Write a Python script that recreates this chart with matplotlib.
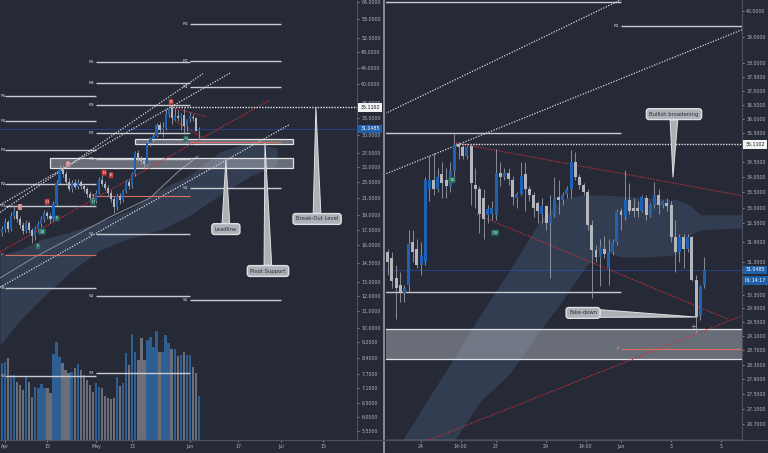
import numpy as np
import matplotlib
matplotlib.use("Agg")
import matplotlib.pyplot as plt
import matplotlib.transforms as mtransforms
from matplotlib.patches import Rectangle
from matplotlib.lines import Line2D
from matplotlib.ticker import NullLocator, NullFormatter

# ---------------- data ----------------
# Left pane: daily candles, first bar = Mar 30 (x = days since Mar 30)
day_open = [16.8,17.2,17.6,18.3,17.6,18.9,19.4,18.6,18.0,17.4, 18.2,17.5,16.9,17.6,18.1,18.6,19.2,18.9,18.6,20.3,
            22.8,24.6,24.0,22.9,22.0,22.8,22.3,22.9,22.4,22.0, 21.4,21.0,20.6,21.6,23.2,22.7,22.2,21.6,20.8,19.9,
            21.2,20.7,21.8,22.9,22.4,24.0,27.0,26.2,25.8,25.4, 28.6,29.3,29.9,31.8,30.8,31.2,33.9,35.05,32.75,33.45,
            33.05,33.6,31.65,32.9,33.3,33.1,30.75]
day_high = [17.6,17.9,18.7,18.5,19.3,19.9,19.6,18.9,18.3,18.5, 18.4,17.7,17.9,18.4,18.9,19.6,19.5,19.2,20.6,23.2,
            25.4,25.3,24.4,23.5,23.2,23.4,23.3,23.2,22.7,22.3, 21.8,21.4,21.9,23.6,23.9,23.1,22.5,21.9,21.1,21.5,
            21.6,22.1,23.2,23.3,24.3,27.4,27.6,26.6,26.2,29.0, 29.7,30.4,32.2,32.3,32.3,34.8,35.45,35.1,35.0,34.5,
            34.0,35.0,32.95,34.25,33.85,33.2,31.45]
day_low = [16.4,16.9,17.3,17.3,17.4,18.6,18.3,17.7,17.1,17.2, 17.2,16.2,16.5,17.3,17.8,18.3,18.6,18.2,18.4,20.0,
           22.5,23.6,22.6,21.8,21.7,22.0,22.0,22.1,21.7,21.1, 20.7,20.2,20.4,21.4,22.4,21.9,21.2,20.5,19.2,19.6,
           20.3,20.5,21.5,22.0,22.2,23.8,25.9,25.4,24.9,25.2, 28.1,28.8,29.6,30.4,29.6,30.9,33.3,32.0,32.6,32.5,
           30.8,30.2,30.55,32.3,32.5,30.7,29.2]
day_close = [17.2,17.6,18.3,17.6,18.9,19.4,18.6,18.0,17.4,18.2, 17.5,16.9,17.6,18.1,18.6,19.2,18.9,18.6,20.3,22.8,
             24.6,24.0,22.9,22.0,22.8,22.3,22.9,22.4,22.0,21.4, 21.0,20.6,21.6,23.2,22.7,22.2,21.6,20.8,19.9,21.2,
             20.7,21.8,22.9,22.4,24.0,27.0,26.2,25.8,25.4,28.6, 29.3,29.9,31.8,30.8,31.2,33.8,35.0,33.0,33.45,33.05,
             33.6,31.65,32.85,33.35,33.05,30.75,31.05]
day_volume = [73,77,78,82,65,65,58,55,50,64, 58,43,53,52,56,52,52,47,86,98,
              83,77,70,67,68,72,76,70,65,60, 55,48,57,53,52,44,42,41,42,63,
              54,57,87,75,106,88,80,102,80,100, 103,93,109,88,88,105,97,91,91,84,
              85,88,85,85,73,67,44]

# Right pane: 4h candles, first bar = May 22 16:00
h4_first = 53 + 16 / 24
h4_open = [31.6,31.4,30.8,30.6,30.35,30.6,31.9,31.7,31.2,31.3, 33.6,33.9,33.6,34.1,33.9,33.7,34.2,35.1,35.0,34.7,
           35.05,33.75,33.6,33.3,32.75,32.8,32.75,34.15,34.0,34.15, 33.9,33.3,33.45,34.1,33.6,33.4,33.15,32.8,33.05,32.5,
           32.75,33.35,33.25,33.45,33.6,34.5,34.0,33.75,33.5,32.45, 31.65,31.45,31.7,31.1,31.6,31.9,32.9,32.7,33.25,33.0,
           32.95,32.9,33.3,32.75,33.1,33.4,33.1,33.15,33.1,32.05, 31.6,32.05,31.7,32.05,30.75,29.7,30.6]
h4_high = [31.7,31.6,31.2,31.0,30.6,32.3,32.3,32.0,31.9,34.0, 34.7,34.8,34.3,34.5,34.3,34.5,35.45,35.2,35.1,35.1,
           35.1,34.3,33.7,33.6,33.1,33.2,34.95,34.5,34.3,34.3, 34.05,33.5,34.5,34.5,33.7,33.5,33.2,33.3,33.1,33.4,
           34.0,33.9,33.5,33.7,34.9,34.85,34.1,33.8,33.6,32.6, 31.8,32.0,32.1,32.0,32.0,32.95,33.0,34.25,33.8,33.3,
           33.2,33.4,33.4,33.15,33.85,33.6,33.25,33.3,33.2,32.6, 32.15,32.15,32.15,32.1,30.9,30.6,31.45]
h4_low = [30.9,30.5,29.6,30.1,30.1,30.4,31.3,31.1,30.9,31.2, 33.2,33.4,33.5,33.3,33.3,33.5,34.0,34.6,34.6,34.6,
          33.1,33.0,32.2,32.0,32.5,32.6,32.6,33.7,33.9,33.75, 33.1,33.0,33.4,32.9,33.2,32.7,32.5,32.5,32.3,30.8,
          32.7,32.8,33.1,33.3,33.3,33.9,33.6,33.4,32.3,30.2, 31.3,30.55,31.4,30.6,31.5,31.8,32.3,32.6,32.8,32.7,
          32.7,32.85,32.6,32.7,33.0,32.8,33.0,32.9,31.9,31.0, 31.3,31.1,31.6,30.7,29.2,29.55,30.5]
h4_close = [31.3,30.7,30.5,30.4,30.5,31.85,31.6,31.2,31.5,33.9, 33.9,33.6,34.0,33.8,33.7,34.2,35.1,35.0,34.7,35.0,
            33.8,33.6,32.8,32.65,32.95,33.0,34.15,34.0,34.15,33.95, 33.35,33.45,34.05,33.6,33.4,33.0,32.9,33.05,32.5,32.75,
            33.3,33.25,33.4,33.6,34.5,34.0,33.75,33.5,32.45,31.65, 31.45,31.75,31.55,31.6,31.9,32.85,32.75,33.25,32.9,32.9,
            32.9,33.35,32.75,33.1,33.4,33.1,33.15,33.05,32.05,31.6, 32.05,31.7,32.05,30.75,29.65,30.55,31.05]

# Moving average (left)
ma_day = [0.35, 11.24, 22.46, 36.65, 49.85, 59.75, 65.7]
ma_val = [13.28, 14.88, 16.49, 18.8, 20.95, 24.57, 26.6]

# Clouds
lc_day = [0.35, 6.95, 13.55, 23.45, 33.35, 43.25, 53.15, 63.05, 72.96, 82.86, 91.77]
lc_top = [15.14, 15.58, 16.49, 17.26, 18.27, 19.56, 21.93, 23.88, 27.23, 28.82, 27.85]
lc_bot = [9.06, 10.45, 11.72, 13.74, 15.58, 16.68, 17.46, 19.01, 21.31, 23.74, 25.28]
rc_day = [54.32, 55.36, 56.16, 57.36, 58.56, 59.76, 60.56, 61.36, 62.16, 62.96, 64.16, 65.24, 65.76, 66.16, 67.84]
rc_top = [26.35, 27.45, 28.3, 29.7, 31.06, 32.58, 33.25, 33.41, 33.41, 33.38, 33.31, 33.25, 33.09, 32.77, 32.77]
rc_bot = [26.2, 26.1, 26.1, 27.3, 28.06, 29.26, 30.03, 30.91, 31.67, 31.45, 31.45, 31.52, 32.13, 32.29, 32.35]

# Monthly pivots
pivA_names = ['R5', 'R4', 'R3', 'R2', 'R1', 'P', 'S1', 'S2']
pivA_levels = [37.46, 32.49, 27.53, 22.69, 20.01, 15.14, 12.55, 7.6]
pivA_span = (2, 32)
pivB_names = ['R5', 'R4', 'R3', 'R2', 'R1', 'P', 'S1', 'S2', 'S3']
pivB_levels = [45.47, 40.34, 35.5, 30.4, 26.16, 21.19, 17.06, 11.99, 7.73]
pivB_span = (32, 63)
pivC_names = ['R3', 'R2', 'R1', 'P', 'S1', 'S2']
pivC_levels = [56.46, 45.72, 39.4, 28.75, 22.18, 11.72]
pivC_span = (63, 93)

# Zones
zone1 = (16.85, 97, 24.9, 26.3)
zone2 = (45.0, 97, 28.45, 29.3)

# Trend lines (day, price, day, price)
white_lines = [(0.35, 19.30, 67.3, 42.55), (0.35, 20.14, 76.3, 42.7), (0.35, 12.6, 96.1, 31.9)]
red_lines = [(0.35, 15.4, 89.5, 36.65), (56.4, 35.15, 68.7, 33.26), (57.24, 32.77, 67.24, 29.6)]
breakout_level = 35.1102
breakout_from = 56.4
last_price = 31.0485

# ---------------- style ----------------
BG = '#262a37'
TXT = '#b2b5be'
AXC = '#4d515e'
UP = '#1f62b5'
DN = '#b4b6bc'
WICK = '#a3a6ad'
VUP = '#2f5e92'
VDN = '#6c6e77'
PIVC = '#c9cbd1'
PCOL = '#c0504d'

fig = plt.figure(figsize=(7.68, 4.53), dpi=100, facecolor=BG)
axL = fig.add_axes([0, 13 / 453, 357 / 768, 440 / 453])
axR = fig.add_axes([386 / 768, 13 / 453, 356 / 768, 440 / 453])
axV = axL.twinx()
axV.set_zorder(0)
axL.set_zorder(1)
axL.patch.set_visible(False)
axV.patch.set_visible(True)
axV.patch.set_facecolor(BG)
axR.set_facecolor(BG)

for ax in (axL, axR):
    ax.set_yscale('log')
axL.set_ylim(5.277, 64.73)
axL.set_xlim(0.35, 118.17)
axR.set_ylim(26.29, 40.43)
axR.set_xlim(53.6, 67.84)


def style(ax):
    for s in ['top', 'left']:
        ax.spines[s].set_visible(False)
    for s in ['right', 'bottom']:
        ax.spines[s].set_color(AXC)
        ax.spines[s].set_linewidth(0.8)
    ax.yaxis.tick_right()
    ax.yaxis.set_minor_locator(NullLocator())
    ax.yaxis.set_minor_formatter(NullFormatter())
    ax.tick_params(axis='both', which='major', labelsize=3.4, colors=TXT,
                   length=1.5, width=0.5, pad=1.6)


style(axL)
style(axR)
for s in axV.spines.values():
    s.set_visible(False)
axV.set_yticks([])
axV.set_ylim(0, 440)

left_yticks = [64, 58, 52, 48, 44, 40, 36, 33, 30, 27, 25, 23, 21, 19, 17.5, 16, 14.5, 13, 12, 11, 10,
               9.2, 8.4, 7.7, 7.1, 6.5, 6.0, 5.55]
right_yticks = [40, 39, 38, 37.5, 37, 36.5, 36, 35.5, 35, 34.5, 34, 33.5, 33, 32.5, 31.9, 31.3, 30.7,
                30.3, 29.9, 29.5, 29.1, 28.7, 28.3, 27.9, 27.5, 27.1, 26.7]
axL.set_yticks(left_yticks)
axL.set_yticklabels([f'{v:.4f}' for v in left_yticks])
axR.set_yticks(right_yticks)
axR.set_yticklabels([f'{v:.4f}' for v in right_yticks])

left_xticks = [2, 16, 32, 44, 63, 79, 93, 107]
left_xlabels = ['Apr', '15', 'May', '13', 'Jun', '17', 'Jul', '15']
right_xticks = [55, 56 + 14 / 24, 58, 60, 61 + 14 / 24, 63, 65, 67]
right_xlabels = ['24', '14:00', '27', '29', '14:00', 'Jun', '3', '5']
axL.set_xticks(left_xticks)
axL.set_xticklabels(left_xlabels)
axR.set_xticks(right_xticks)
axR.set_xticklabels(right_xlabels)

# ---------------- clouds & MA ----------------
axL.fill_between(lc_day, lc_bot, lc_top, color='#50698f', alpha=0.33, lw=0, zorder=1)
axR.fill_between(rc_day, rc_bot, rc_top, color='#50698f', alpha=0.30, lw=0, zorder=1)
axL.plot(ma_day, ma_val, color='#8a8d96', lw=0.7, zorder=2)

# ---------------- volume ----------------
d_x = np.arange(len(day_open))
d_up = np.asarray(day_close) >= np.asarray(day_open)
axV.bar(d_x, day_volume, width=0.78, color=np.where(d_up, VUP, VDN), lw=0, zorder=1)

# ---------------- pivots ----------------
piv_sets = [(pivA_names, pivA_levels, pivA_span),
            (pivB_names, pivB_levels, pivB_span),
            (pivC_names, pivC_levels, pivC_span)]
for si, (names, levels, (a, b)) in enumerate(piv_sets):
    for nm, lv in zip(names, levels):
        col = PCOL if nm == 'P' else PIVC
        for ax in (axL, axR):
            if nm == 'P':
                ax.hlines(lv, a, b, colors='#d8705f', lw=0.8, zorder=3.7)
            else:
                ax.hlines(lv, a, b, colors=col, lw=1.0, zorder=3)
            tcol = '#e8a0a0' if nm == 'P' else '#d8dae0'
            if si == 0:
                # first set: label kept inside the pane's left edge
                if ax is axL:
                    tr = mtransforms.blended_transform_factory(ax.transAxes, ax.transData)
                    ax.text(0.002, lv, nm, transform=tr, ha='left', va='center', fontsize=3.0,
                            color=tcol, zorder=6)
            else:
                ax.annotate(nm, xy=(a, lv), xytext=(-1.2, 0), textcoords='offset points',
                            ha='right', va='center', fontsize=3.2, color=tcol, zorder=6,
                            annotation_clip=True)

# ---------------- zones ----------------
for (a, b, lo, hi) in (zone1, zone2):
    for ax in (axL, axR):
        ax.add_patch(Rectangle((a, lo), b - a, hi - lo, fc='#c8cad0', alpha=0.42, ec='none', zorder=2))
        ax.add_patch(Rectangle((a, lo), b - a, hi - lo, fc='none', ec='#e4e5e8', lw=0.9, zorder=2.1))

# ---------------- trend lines ----------------
for (x0, y0, x1, y1) in white_lines:
    for ax in (axL, axR):
        ax.plot([x0, x1], [y0, y1], color='#d6d7db', lw=0.9, ls=(0, (1, 1.2)), zorder=3.5)
for (x0, y0, x1, y1) in red_lines:
    for ax in (axL, axR):
        ax.plot([x0, x1], [y0, y1], color='#c8303a', lw=0.9, ls=(0, (1, 1.2)), zorder=3.5)
for ax in (axL, axR):
    ax.hlines(breakout_level, breakout_from, 140, colors='#e6e7ea', lw=1.0, linestyles=(0, (1, 1)), zorder=3.6)
    ax.axhline(last_price, color='#2962ff', lw=0.5, alpha=0.55, zorder=3.4)


# ---------------- candles ----------------
def candles(ax, x, o, h, l, c, width):
    o, h, l, c = map(np.asarray, (o, h, l, c))
    up = c >= o
    ax.vlines(x, l, h, colors=WICK, lw=0.55, zorder=4)
    body = np.maximum(np.abs(c - o), 0.003 * c)
    ax.bar(x, body, bottom=np.minimum(o, c), width=width,
           color=np.where(up, UP, DN), lw=0, zorder=5)


candles(axL, d_x, day_open, day_high, day_low, day_close, 0.7)
h_x = h4_first + np.arange(len(h4_open)) / 6
candles(axR, h_x, h4_open, h4_high, h4_low, h4_close, 0.12)

# ---------------- markers ----------------
tag_colors = {'red': ('#c43a3a', '#ffffff'), 'green': ('#2f6f63', '#b0f0de'), 'pink': ('#c98a8a', '#f6e4e4')}
left_tag_day = [15.86, 19.2, 14.2, 12.9, 31.0, 34.7, 37.0, 22.8, 6.95, 56.8, 61.7]
left_tag_price = [20.5, 18.65, 17.3, 15.9, 20.5, 24.2, 23.85, 25.4, 19.9, 36.2, 29.36]
left_tag_text = ['H', 'E', '1B', 'E', 'H', 'H', 'E', 'P', 'P', 'R', 'H']
left_tag_kind = ['red', 'green', 'green', 'green', 'green', 'red', 'red', 'pink', 'pink', 'red', 'green']
right_tag_day = [56.24, 57.96]
right_tag_price = [33.9, 32.2]
right_tag_text = ['1B', 'DB']
right_tag_kind = ['green', 'green']


def tags(ax, xs, ys, ts, ks):
    for x, y, t, k in zip(xs, ys, ts, ks):
        fc, tc = tag_colors[k]
        ax.text(x, y, t, fontsize=2.8, color=tc, ha='center', va='center', zorder=7,
                bbox=dict(boxstyle='round,pad=0.25', fc=fc, ec='none'))


tags(axL, left_tag_day, left_tag_price, left_tag_text, left_tag_kind)
tags(axR, right_tag_day, right_tag_price, right_tag_text, right_tag_kind)
axR.text(65.88, 29.36, '+', fontsize=5, color='#b2b5be', ha='center', va='center', zorder=7)

# ---------------- callouts ----------------
CFC = '#aeb0b6'
CEC = '#dfe0e3'


def callout(ax, text, box, tip):
    ax.annotate(text, xy=tip, xytext=box, ha='center', va='center', fontsize=3.8, color='#2a2e39',
                bbox=dict(boxstyle='round,pad=0.55,rounding_size=0.5', fc=CFC, ec=CEC, lw=1.0),
                arrowprops=dict(arrowstyle='wedge,tail_width=0.55,shrink_factor=0.5', fc=CFC, ec=CEC,
                                lw=0.7, mutation_scale=10, shrinkA=0, shrinkB=0),
                zorder=8, annotation_clip=False)


callout(axL, 'Leadline', (74.9, 17.55), (74.9, 26.0))
callout(axL, 'Pivot Support', (88.8, 13.82), (87.8, 28.6))
callout(axL, 'Break-Out Level', (105.0, 18.59), (104.6, 35.1))
callout(axR, 'Bullish broadening', (65.12, 36.16), (65.08, 34.0))
callout(axR, 'Fake-down', (61.48, 29.77), (66.0, 29.65))


# ---------------- price tags ----------------
def price_tag(ax, y, text, fc, tc, dx):
    tr = mtransforms.blended_transform_factory(ax.transAxes, ax.transData)
    ax.text(1.0 + dx, y, text, transform=tr, ha='left', va='center', fontsize=3.4, color=tc,
            bbox=dict(boxstyle='square,pad=0.4', fc=fc, ec='none'), clip_on=False, zorder=10)


price_tag(axL, breakout_level, '35.1102', '#f2f2f2', '#131722', 0.009)
price_tag(axL, last_price, '31.0485', '#1f5ea8', '#ffffff', 0.009)
price_tag(axR, breakout_level, '35.1102', '#f2f2f2', '#131722', 0.009)
price_tag(axR, last_price, '31.0485', '#1f5ea8', '#ffffff', 0.009)
price_tag(axR, 30.73, '01:14:17', '#1f5ea8', '#ffffff', 0.009)

# ---------------- frame lines ----------------
fig.add_artist(Line2D([383.5 / 768, 383.5 / 768], [0, 1], color='#9a9da6', lw=1.2))
fig.add_artist(Line2D([0, 1], [13 / 453, 13 / 453], color=AXC, lw=0.8))

fig.savefig('out.png', dpi=100, facecolor=BG)
